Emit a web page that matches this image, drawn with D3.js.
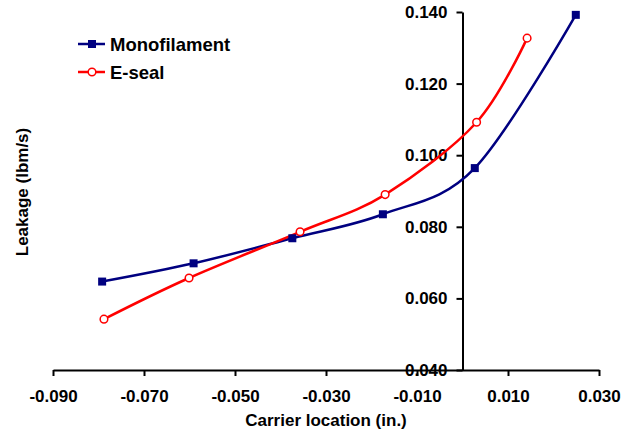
<!DOCTYPE html>
<html>
<head>
<meta charset="utf-8">
<script src="https://cdn.jsdelivr.net/npm/d3@7"></script>
<style>
  body { margin: 0; background: #fff; }
  svg { display: block; font-family: "Liberation Sans", Arial, sans-serif; font-weight: bold; }
</style>
</head>
<body>
<script>
// Data
const seriesNames = ['Monofilament', 'E-seal'];
const monoX = [-0.0792, -0.0591, -0.0374, -0.0175, 0.0027, 0.0249];
const monoY = [0.0647, 0.0698, 0.0768, 0.0835, 0.0964, 0.1392];
const esealX = [-0.0788, -0.0601, -0.0357, -0.0170, 0.0031, 0.0142];
const esealY = [0.0542, 0.0657, 0.0786, 0.0890, 0.1092, 0.1327];
const xTicks = [-0.09, -0.07, -0.05, -0.03, -0.01, 0.01, 0.03];
const yTicks = [0.04, 0.06, 0.08, 0.10, 0.12, 0.14];

const width = 626;
const height = 434;

// plain hyphen for negatives, like the original
const fmt = d => d3.format('.3f')(d).replace('\u2212', '-');

const svg = d3.select('body').append('svg')
  .attr('width', width)
  .attr('height', height);

const x = d3.scaleLinear().domain([-0.09, 0.03]).range([53, 599]);
const y = d3.scaleLinear().domain([0.04, 0.14]).range([370, 12]);

// X axis
const xAxis = svg.append('g')
  .attr('transform', `translate(0,${y(0.04)})`)
  .call(d3.axisBottom(x).tickValues(xTicks).tickFormat(fmt)
    .tickSize(6).tickSizeOuter(0));
xAxis.selectAll('text')
  .attr('y', 26).attr('dy', '0.35em')
  .attr('font-size', 17).attr('font-family', null).attr('fill', '#000');

// Y axis, crossing at x = 0
const yAxis = svg.append('g')
  .attr('transform', `translate(${x(0)},0)`)
  .call(d3.axisLeft(y).tickValues(yTicks).tickFormat(fmt)
    .tickSize(6).tickSizeOuter(0).tickPadding(9));
yAxis.selectAll('text')
  .attr('font-size', 17).attr('font-family', null).attr('fill', '#000');

svg.selectAll('.domain, .tick line')
  .attr('stroke', '#000')
  .attr('stroke-width', 2);

// Axis titles
svg.append('text')
  .attr('x', 326).attr('y', 420)
  .attr('text-anchor', 'middle')
  .attr('dominant-baseline', 'central')
  .attr('font-size', 17)
  .text('Carrier location (in.)');

svg.append('text')
  .attr('transform', 'translate(22,192) rotate(-90)')
  .attr('text-anchor', 'middle')
  .attr('dominant-baseline', 'central')
  .attr('font-size', 17)
  .text('Leakage (lbm/s)');

// Lines
const line = d3.line()
  .x(d => x(d[0]))
  .y(d => y(d[1]))
  .curve(d3.curveCardinal.tension(0));

const monoData = monoX.map((v, i) => [v, monoY[i]]);
const esealData = esealX.map((v, i) => [v, esealY[i]]);

svg.append('path')
  .datum(monoData)
  .attr('d', line)
  .attr('fill', 'none')
  .attr('stroke', '#000080')
  .attr('stroke-width', 2.5);

svg.append('path')
  .datum(esealData)
  .attr('d', line)
  .attr('fill', 'none')
  .attr('stroke', '#ff0000')
  .attr('stroke-width', 2.5);

// Markers
svg.append('g')
  .selectAll('rect')
  .data(monoData)
  .enter().append('rect')
  .attr('x', d => x(d[0]) - 4)
  .attr('y', d => y(d[1]) - 4)
  .attr('width', 8)
  .attr('height', 8)
  .attr('fill', '#000080');

svg.append('g')
  .selectAll('circle')
  .data(esealData)
  .enter().append('circle')
  .attr('cx', d => x(d[0]))
  .attr('cy', d => y(d[1]))
  .attr('r', 3.8)
  .attr('fill', '#fff')
  .attr('stroke', '#ff0000')
  .attr('stroke-width', 1.5);

// Legend
const legend = svg.append('g');
const legendRows = legend.selectAll('g')
  .data(seriesNames)
  .enter().append('g')
  .attr('transform', (d, i) => `translate(78,${44 + i * 28})`);

legendRows.append('line')
  .attr('x1', 0).attr('x2', 27)
  .attr('stroke', (d, i) => i === 0 ? '#000080' : '#ff0000')
  .attr('stroke-width', 2.5);

legendRows.filter((d, i) => i === 0).append('rect')
  .attr('x', 10).attr('y', -4).attr('width', 8).attr('height', 8)
  .attr('fill', '#000080');

legendRows.filter((d, i) => i === 1).append('circle')
  .attr('cx', 14).attr('r', 3.8)
  .attr('fill', '#fff').attr('stroke', '#ff0000').attr('stroke-width', 1.5);

legendRows.append('text')
  .attr('x', 32)
  .attr('dominant-baseline', 'central')
  .attr('font-size', 18.5)
  .text(d => d);
</script>
</body>
</html>
